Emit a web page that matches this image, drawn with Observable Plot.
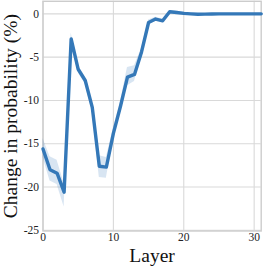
<!DOCTYPE html>
<html>
<head>
<meta charset="utf-8">
<script src="https://cdn.jsdelivr.net/npm/d3@7"></script>
<script src="https://cdn.jsdelivr.net/npm/@observablehq/plot@0.6"></script>
<style>
  html, body { margin: 0; padding: 0; background: #fff; }
  #chart svg { display: block; }
  #chart svg text { font-family: 'Liberation Serif', 'DejaVu Serif', serif !important; }
  g[aria-label="x-axis label"] text, g[aria-label="y-axis label"] text { font-size: 19.5px; fill: #111; }
</style>
</head>
<body>
<div id="chart"></div>
<script>
const layers = [0,1,2,3,4,5,6,7,8,9,10,11,12,13,14,15,16,17,18,19,20,21,22,23,24,25,26,27,28,29,30,31];
const meanChange = [-15.6, -18.0, -18.4, -20.6, -2.9, -6.4, -7.7, -10.8, -17.6, -17.7, -13.8, -10.7, -7.3, -7.0, -4.4, -1.0, -0.6, -0.8, 0.25, 0.15, 0.05, 0.0, -0.05, -0.03, -0.02, 0.0, 0.0, 0.0, 0.0, 0.0, 0.0, 0.0];
const lowerCI = [-16.6, -19.3, -19.7, -22.3, -3.5, -6.8, -8.1, -11.4, -18.9, -19.0, -14.4, -11.2, -8.3, -7.8, -4.8, -1.3, -0.8, -1.0, 0.1, 0.0, -0.1, -0.1, -0.15, -0.1, -0.1, -0.05, -0.05, -0.05, -0.05, -0.05, -0.05, -0.05];
const upperCI = [-14.4, -16.5, -16.9, -19.6, -2.2, -6.0, -7.3, -10.2, -16.4, -16.6, -13.2, -10.2, -6.2, -6.0, -4.0, -0.7, -0.4, -0.6, 0.4, 0.3, 0.2, 0.1, 0.05, 0.05, 0.05, 0.05, 0.05, 0.05, 0.05, 0.05, 0.05, 0.05];
const xTicks = [0, 10, 20, 30];
const yTicks = [0, -5, -10, -15, -20, -25];

const data = layers.map((l, i) => ({layer: l, mean: meanChange[i], lo: lowerCI[i], hi: upperCI[i]}));

const chart = Plot.plot({
  width: 266,
  height: 266,
  marginLeft: 42.5,
  marginRight: 5.3,
  marginTop: 0.8,
  marginBottom: 35.5,
  style: {fontFamily: "'Liberation Serif', 'DejaVu Serif', serif", fontSize: "11.5px", color: "#222", background: "#fff"},
  x: {domain: [0, 31]},
  y: {domain: [-25.08, 1.45]},
  marks: [
    Plot.gridX(xTicks, {stroke: "#d9d9d9", strokeOpacity: 1, strokeWidth: 1.1}),
    Plot.gridY(yTicks, {stroke: "#d9d9d9", strokeOpacity: 1, strokeWidth: 1.1}),
    Plot.frame({stroke: "#cccccc", strokeWidth: 1.4}),
    Plot.areaY(data, {x: "layer", y1: "lo", y2: "hi", fill: "#3a7dbf", fillOpacity: 0.2}),
    Plot.line(data, {x: "layer", y: "mean", stroke: "#3478b8", strokeWidth: 3.4, strokeLinejoin: "round"}),
    Plot.axisX(xTicks, {tickSize: 0, tickPadding: 2, fontSize: 11.5, label: "Layer", labelAnchor: "center", labelOffset: 31, labelArrow: "none", tickFormat: d => String(d)}),
    Plot.axisY(yTicks, {tickSize: 0, tickPadding: 4, fontSize: 11.5, label: "Change in probability (%)", labelAnchor: "center", labelOffset: 40, labelArrow: "none", tickFormat: d => String(d)})
  ]
});
document.getElementById("chart").appendChild(chart);
</script>
</body>
</html>
